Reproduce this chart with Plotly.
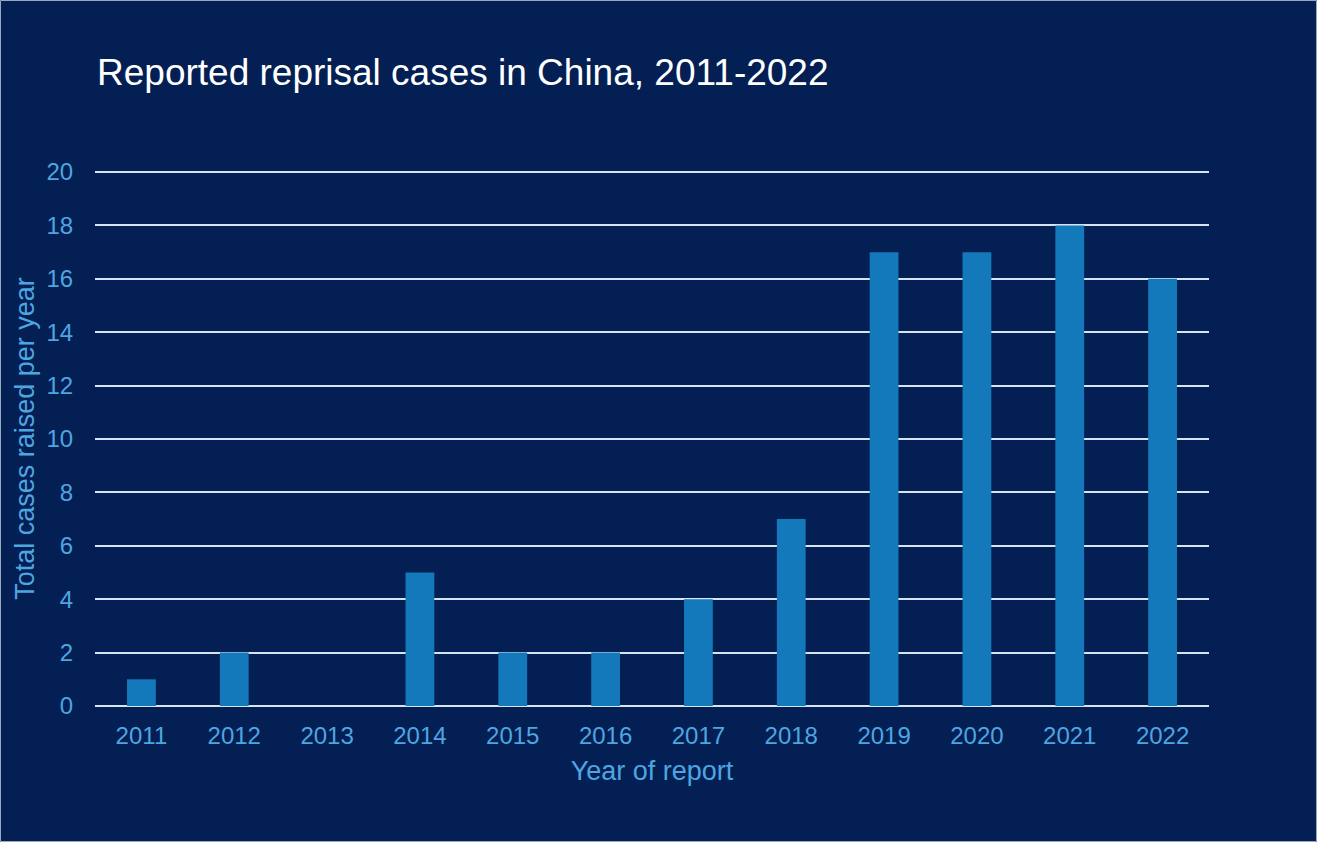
import plotly.graph_objects as go

years = ["2011", "2012", "2013", "2014", "2015", "2016", "2017", "2018", "2019", "2020", "2021", "2022"]
cases = [1, 2, 0, 5, 2, 2, 4, 7, 17, 17, 18, 16]
y_ticks = [0, 2, 4, 6, 8, 10, 12, 14, 16, 18, 20]

BG = "#041F54"
BAR = "#1479BA"
LABEL = "#4DA6E0"
FONT = "Liberation Sans, Arial, sans-serif"

fig = go.Figure(go.Bar(x=years, y=cases, marker=dict(color=BAR, line=dict(width=0))))

fig.update_layout(
    width=1317, height=842,
    paper_bgcolor=BG, plot_bgcolor=BG,
    margin=dict(l=95, r=108, t=171, b=136, autoexpand=False),
    bargap=0.69,
    showlegend=False,
    font=dict(family=FONT, color=LABEL),
    title=dict(text="Reported reprisal cases in China, 2011-2022", x=97/1317, xanchor="left",
               y=1 - 72/842, yanchor="middle", font=dict(size=37, color="white", family=FONT)),
    xaxis=dict(tickfont=dict(size=24, color=LABEL), showgrid=False, showline=False,
               title=dict(text="Year of report", font=dict(size=27, color=LABEL), standoff=13),
               ticks="outside", ticklen=8, tickcolor="rgba(0,0,0,0)"),
    yaxis=dict(range=[0, 20.04], tickvals=y_ticks, tickfont=dict(size=24, color=LABEL),
               showgrid=True, gridcolor="#D6E4F2", gridwidth=2,
               zeroline=True, zerolinecolor="#D6E4F2", zerolinewidth=2,
               ticks="outside", ticklen=16, tickcolor="rgba(0,0,0,0)",
               title=dict(text="Total cases raised per year", font=dict(size=27, color=LABEL), standoff=4)),
)

fig.add_shape(type="rect", xref="paper", yref="paper",
              x0=-94.5/1114, x1=(1317-95-0.5)/1114, y0=-135.5/535, y1=(535+171-0.5)/535,
              line=dict(color="#9AA8BE", width=1), fillcolor="rgba(0,0,0,0)", layer="below")

fig.write_html("out.html")
